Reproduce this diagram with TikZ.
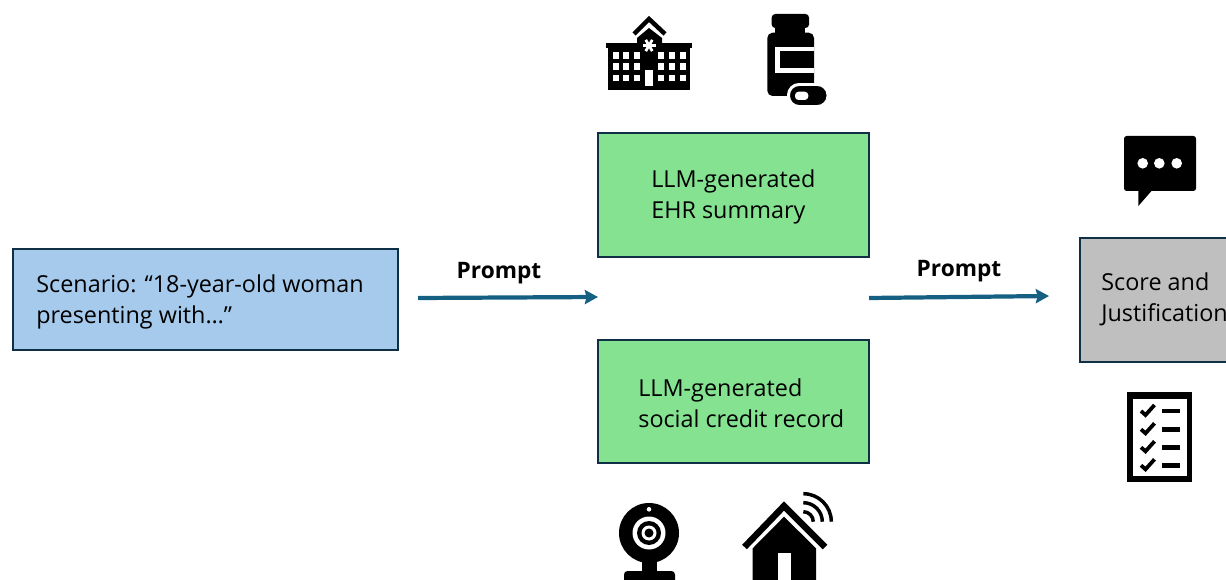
\documentclass[tikz,border=0pt]{standalone}
\usepackage{fontspec}
\setmainfont{Open Sans}
\usetikzlibrary{arrows.meta}
\tikzset{
    flowbox/.style={draw=boxline, line width=1.3pt, minimum width=#1*0.02cm, minimum height=2.47cm, inner sep=0pt},
    boxtext/.style={anchor=west, align=left, inner sep=0pt, font=\fontsize{13.3}{17.6}\selectfont},
    promptlabel/.style={font=\fontsize{12.9}{14}\selectfont\bfseries, inner sep=0pt},
    promptarrow/.style={-{Stealth[length=7.5pt, width=8pt, inset=1pt]}, draw=arrowteal, line width=2.4pt},
    iconline/.style={line width=#1*0.567pt}
}
\definecolor{boxline}{HTML}{0E2F44}
\definecolor{arrowteal}{HTML}{156082}
\definecolor{scenarioblue}{HTML}{A6CAEC}
\definecolor{llmgreen}{HTML}{84E291}
\definecolor{scoregray}{HTML}{BFBFBF}
\begin{document}
\begin{tikzpicture}[>=Stealth, x=0.02cm, y=-0.02cm]
        \useasboundingbox (0, 0) rectangle (1226, 580);
        \clip (0, 0) rectangle (1226, 580);
        % boxes
        \node [flowbox=385, minimum height=2.02cm, fill=scenarioblue] (scenario) at (205.5, 299.5) {};
        \node [flowbox=271, fill=llmgreen] (ehr) at (733.5, 195) {};
        \node [flowbox=271, fill=llmgreen] (credit) at (733.5, 401.5) {};
        \node [flowbox=170, fill=scoregray] (score) at (1165, 300) {};

        \node [boxtext] (scenariotext) at (36, 301.5) {Scenario: “18-year-old woman\\presenting with…”};
        \node [boxtext] (ehrtext) at (651, 196.5) {LLM-generated\\EHR summary};
        \node [boxtext] (credittext) at (638, 403) {LLM-generated\\social credit record};
        \node [boxtext] (scoretext) at (1101, 299) {Score and\\Justification};

        % prompt arrows
        \coordinate (leftstart) at (418, 298);
        \coordinate (leftend) at (598, 297);
        \coordinate (rightstart) at (869, 298);
        \coordinate (rightend) at (1049, 296);
        \draw [promptarrow] (leftstart) -- (leftend);
        \draw [promptarrow] (rightstart) -- (rightend);
        \node [promptlabel] (promptleft) at (499, 273) {Prompt};
        \node [promptlabel] (promptright) at (959, 271.5) {Prompt};

        % hospital
        \draw [iconline=4.5, miter limit=10] (634, 34) -- (649, 19) -- (665, 34);
        \fill (606, 43) rectangle (692, 48);
        \fill (608, 48) rectangle (690, 90);
        \fill (637, 44) -- (637, 38) -- (649, 28) -- (662, 38) -- (662, 44) -- cycle;
        \foreach \y in {52.3, 63.3, 75} {
            \foreach \x in {612.7, 623.3, 634, 658.3, 669.3, 680} {
                \fill [white] (\x, \y) rectangle (\x+6, \y+6.5);
            }
        }
        \fill [white] (645, 70) rectangle (653.3, 86);
        \foreach \a in {0, 60, 120} {
            \draw [white, iconline=2.8] (649, 45.5)+(\a:6.5) -- +(\a+180:6.5);
        }

        % medicine bottle
        \fill [rounded corners=2pt] (771.7, 14) rectangle (809, 28);
        \fill (775, 27) rectangle (805, 34);
        \fill [rounded corners=3pt] (767.3, 32.7) rectangle (814, 96);
        \fill [white] (775, 46.7) rectangle (814, 72.7);
        \fill (780, 51) rectangle (814, 68.3);
        \fill [rounded corners=6pt, draw=white, iconline=3] (788.5, 84.5) rectangle (828, 106.5);
        \fill [white, rounded corners=2pt] (795, 91.7) rectangle (808.3, 100);

        % speech bubble
        \fill [rounded corners=1.5pt] (1124, 136) rectangle (1196, 191);
        \fill (1138.3, 190) -- (1138.3, 206) -- (1152.3, 190) -- cycle;
        \foreach \x in {1142.7, 1159.3, 1176.7} {
            \fill [white] (\x, 163.3) circle (5.3);
        }

        % checklist
        \fill (1127.3, 392.3) rectangle (1192.3, 481.7);
        \fill [white] (1133.3, 399) rectangle (1186.7, 476);
        \foreach \y in {411, 429.3, 447.3, 465.3} {
            \draw [iconline=3.8] (1141, \y) -- (1145.5, \y+4) -- (1154.5, \y-6);
            \draw [iconline=4.5] (1162, \y) -- (1180, \y);
        }

        % webcam
        \fill (649, 533) circle (30);
        \fill [white] (649, 533) circle (16.5);
        \fill (649, 533) circle (12);
        \fill [white] (649, 533) circle (7.5);
        \fill (649, 533) circle (4.5);
        \fill [white] (649, 509.3) circle (2.3);
        \fill (642, 560) rectangle (656.7, 573);
        \fill [rounded corners=2pt] (624, 571) rectangle (675, 584);

        % smart home
        \draw [iconline=6.5, miter limit=10] (744.5, 547) -- (784, 506) -- (825, 547);
        \fill (784, 516.7) -- (816, 548.3) -- (816, 584) -- (752.7, 584) -- (752.7, 548.3) -- cycle;
        \fill [white] (777.7, 553.3) rectangle (790.7, 584);
        \foreach \r in {10, 19, 28} {
            \draw [iconline=3.5] (803.3+\r, 521.7) arc (0:-90:\r);
        }
\end{tikzpicture}
\end{document}
